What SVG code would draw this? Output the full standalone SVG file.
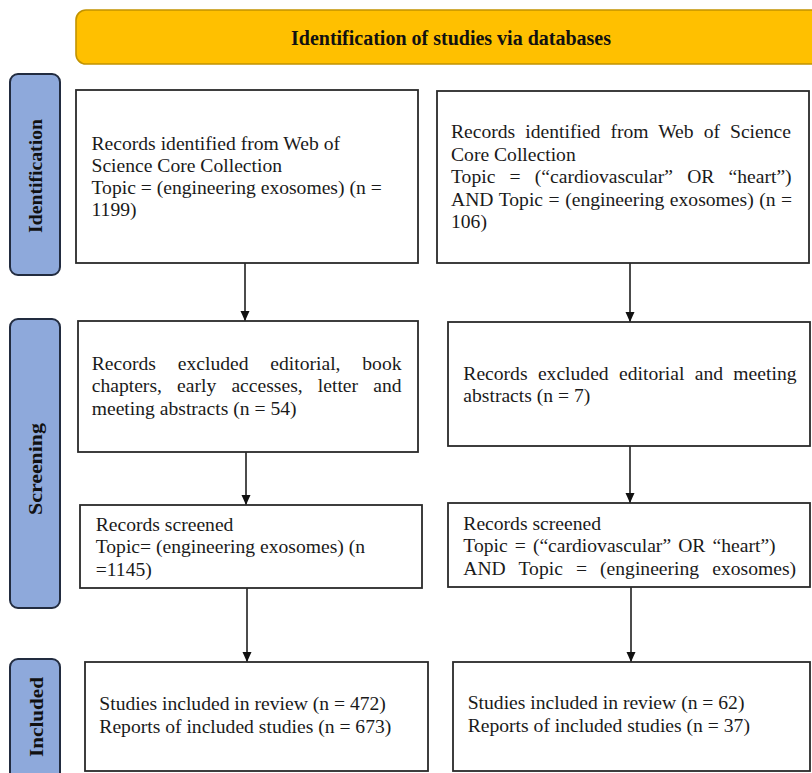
<svg xmlns="http://www.w3.org/2000/svg" width="812" height="773" viewBox="0 0 812 773">
<defs>
<marker id="ah" markerUnits="userSpaceOnUse" markerWidth="10" markerHeight="10" refX="10" refY="4.5" orient="auto">
<path d="M0,0 L10,4.5 L0,9 z" fill="#111"/>
</marker>
<style>
.box{fill:#fff;stroke:#2a2a2a;stroke-width:1.8}
.lab{fill:#8EA9DB;stroke:#222c40;stroke-width:2}
.hdr{fill:#FFC000;stroke:#C29300;stroke-width:1.6}
.t{font-family:"Liberation Serif","Times New Roman",serif;font-size:18px;fill:#1a1a1a}
.lt{font-family:"Liberation Serif","Times New Roman",serif;font-size:19.5px;font-weight:bold;fill:#111;text-anchor:middle}
.ht{font-family:"Liberation Serif","Times New Roman",serif;font-size:20px;font-weight:bold;fill:#111;text-anchor:middle}
.c{stroke:#111;stroke-width:1.5;fill:none;marker-end:url(#ah)}
</style>
</defs>
<rect width="812" height="773" fill="#fff"/>

<g id="header">
<rect class="hdr" x="76" y="10" width="780" height="54" rx="10"/>
<text class="ht" x="451" y="45">Identification of studies via databases</text>
</g>

<g id="label-identification">
<rect class="lab" x="10" y="74" width="50" height="201" rx="8"/>
<text class="lt" transform="translate(42,176) rotate(-90)" x="0" y="0" textLength="114" lengthAdjust="spacingAndGlyphs">Identification</text>
</g>
<g id="label-screening">
<rect class="lab" x="10" y="319" width="50" height="289" rx="8"/>
<text class="lt" transform="translate(42,469) rotate(-90)" x="0" y="0" textLength="92" lengthAdjust="spacingAndGlyphs">Screening</text>
</g>
<g id="label-included">
<rect class="lab" x="10" y="659" width="50" height="140" rx="8"/>
<text class="lt" transform="translate(43,717) rotate(-90)" x="0" y="0" textLength="80" lengthAdjust="spacingAndGlyphs">Included</text>
</g>

<g id="connectors">
<line class="c" x1="245" y1="263" x2="245" y2="321"/>
<line class="c" x1="246" y1="452" x2="246" y2="505"/>
<line class="c" x1="247" y1="588" x2="247" y2="662"/>
<line class="c" x1="630" y1="263" x2="630" y2="322"/>
<line class="c" x1="630" y1="446" x2="630" y2="503"/>
<line class="c" x1="631" y1="587" x2="631" y2="662"/>
</g>

<g id="left-identified">
<rect class="box" x="76" y="90" width="342" height="173"/>
<text class="t" transform="matrix(1.09 0 0 1 91.5 0)">
<tspan x="0" y="150">Records identified from Web of</tspan>
<tspan x="0" y="172">Science Core Collection</tspan>
<tspan x="0" y="194">Topic = (engineering exosomes) (n =</tspan>
<tspan x="0" y="216">1199)</tspan>
</text>
</g>

<g id="right-identified">
<rect class="box" x="437" y="91" width="372" height="172"/>
<text class="t" transform="matrix(1.09 0 0 1 451 0)">
<tspan x="0" y="138.3" word-spacing="4.7">Records identified from Web of Science</tspan>
<tspan x="0" y="160.8">Core Collection</tspan>
<tspan x="0" y="183.3" word-spacing="8.5">Topic = (“cardiovascular” OR “heart”)</tspan>
<tspan x="0" y="205.8" word-spacing="0.6">AND Topic = (engineering exosomes) (n =</tspan>
<tspan x="0" y="228.3">106)</tspan>
</text>
</g>

<g id="left-excluded">
<rect class="box" x="78" y="321" width="340" height="131"/>
<text class="t" transform="matrix(1.09 0 0 1 91.7 0)">
<tspan x="0" y="370" word-spacing="15.5">Records excluded editorial, book</tspan>
<tspan x="0" y="392.5" word-spacing="9.4">chapters, early accesses, letter and</tspan>
<tspan x="0" y="415">meeting abstracts (n = 54)</tspan>
</text>
</g>

<g id="right-excluded">
<rect class="box" x="448" y="322" width="362" height="124"/>
<text class="t" transform="matrix(1.09 0 0 1 463.3 0)">
<tspan x="0" y="380" word-spacing="5">Records excluded editorial and meeting</tspan>
<tspan x="0" y="402.5">abstracts (n = 7)</tspan>
</text>
</g>

<g id="left-screened">
<rect class="box" x="80" y="505" width="342" height="83"/>
<text class="t" transform="matrix(1.09 0 0 1 95.7 0)">
<tspan x="0" y="531.5">Records screened</tspan>
<tspan x="0" y="553.5">Topic= (engineering exosomes) (n</tspan>
<tspan x="0" y="576">=1145)</tspan>
</text>
</g>

<g id="right-screened">
<rect class="box" x="448" y="503" width="362" height="84"/>
<text class="t" transform="matrix(1.09 0 0 1 463.3 0)">
<tspan x="0" y="530">Records screened</tspan>
<tspan x="0" y="552.5" word-spacing="2">Topic = (“cardiovascular” OR “heart”)</tspan>
<tspan x="0" y="575" word-spacing="7.5">AND Topic = (engineering exosomes)</tspan>
</text>
</g>

<g id="left-included">
<rect class="box" x="85" y="662" width="343" height="109"/>
<text class="t" transform="matrix(1.09 0 0 1 99.3 0)">
<tspan x="0" y="710">Studies included in review (n = 472)</tspan>
<tspan x="0" y="732.5">Reports of included studies (n = 673)</tspan>
</text>
</g>

<g id="right-included">
<rect class="box" x="453" y="662" width="357" height="109"/>
<text class="t" transform="matrix(1.09 0 0 1 467.7 0)">
<tspan x="0" y="709.3">Studies included in review (n = 62)</tspan>
<tspan x="0" y="731.7">Reports of included studies (n = 37)</tspan>
</text>
</g>
</svg>
